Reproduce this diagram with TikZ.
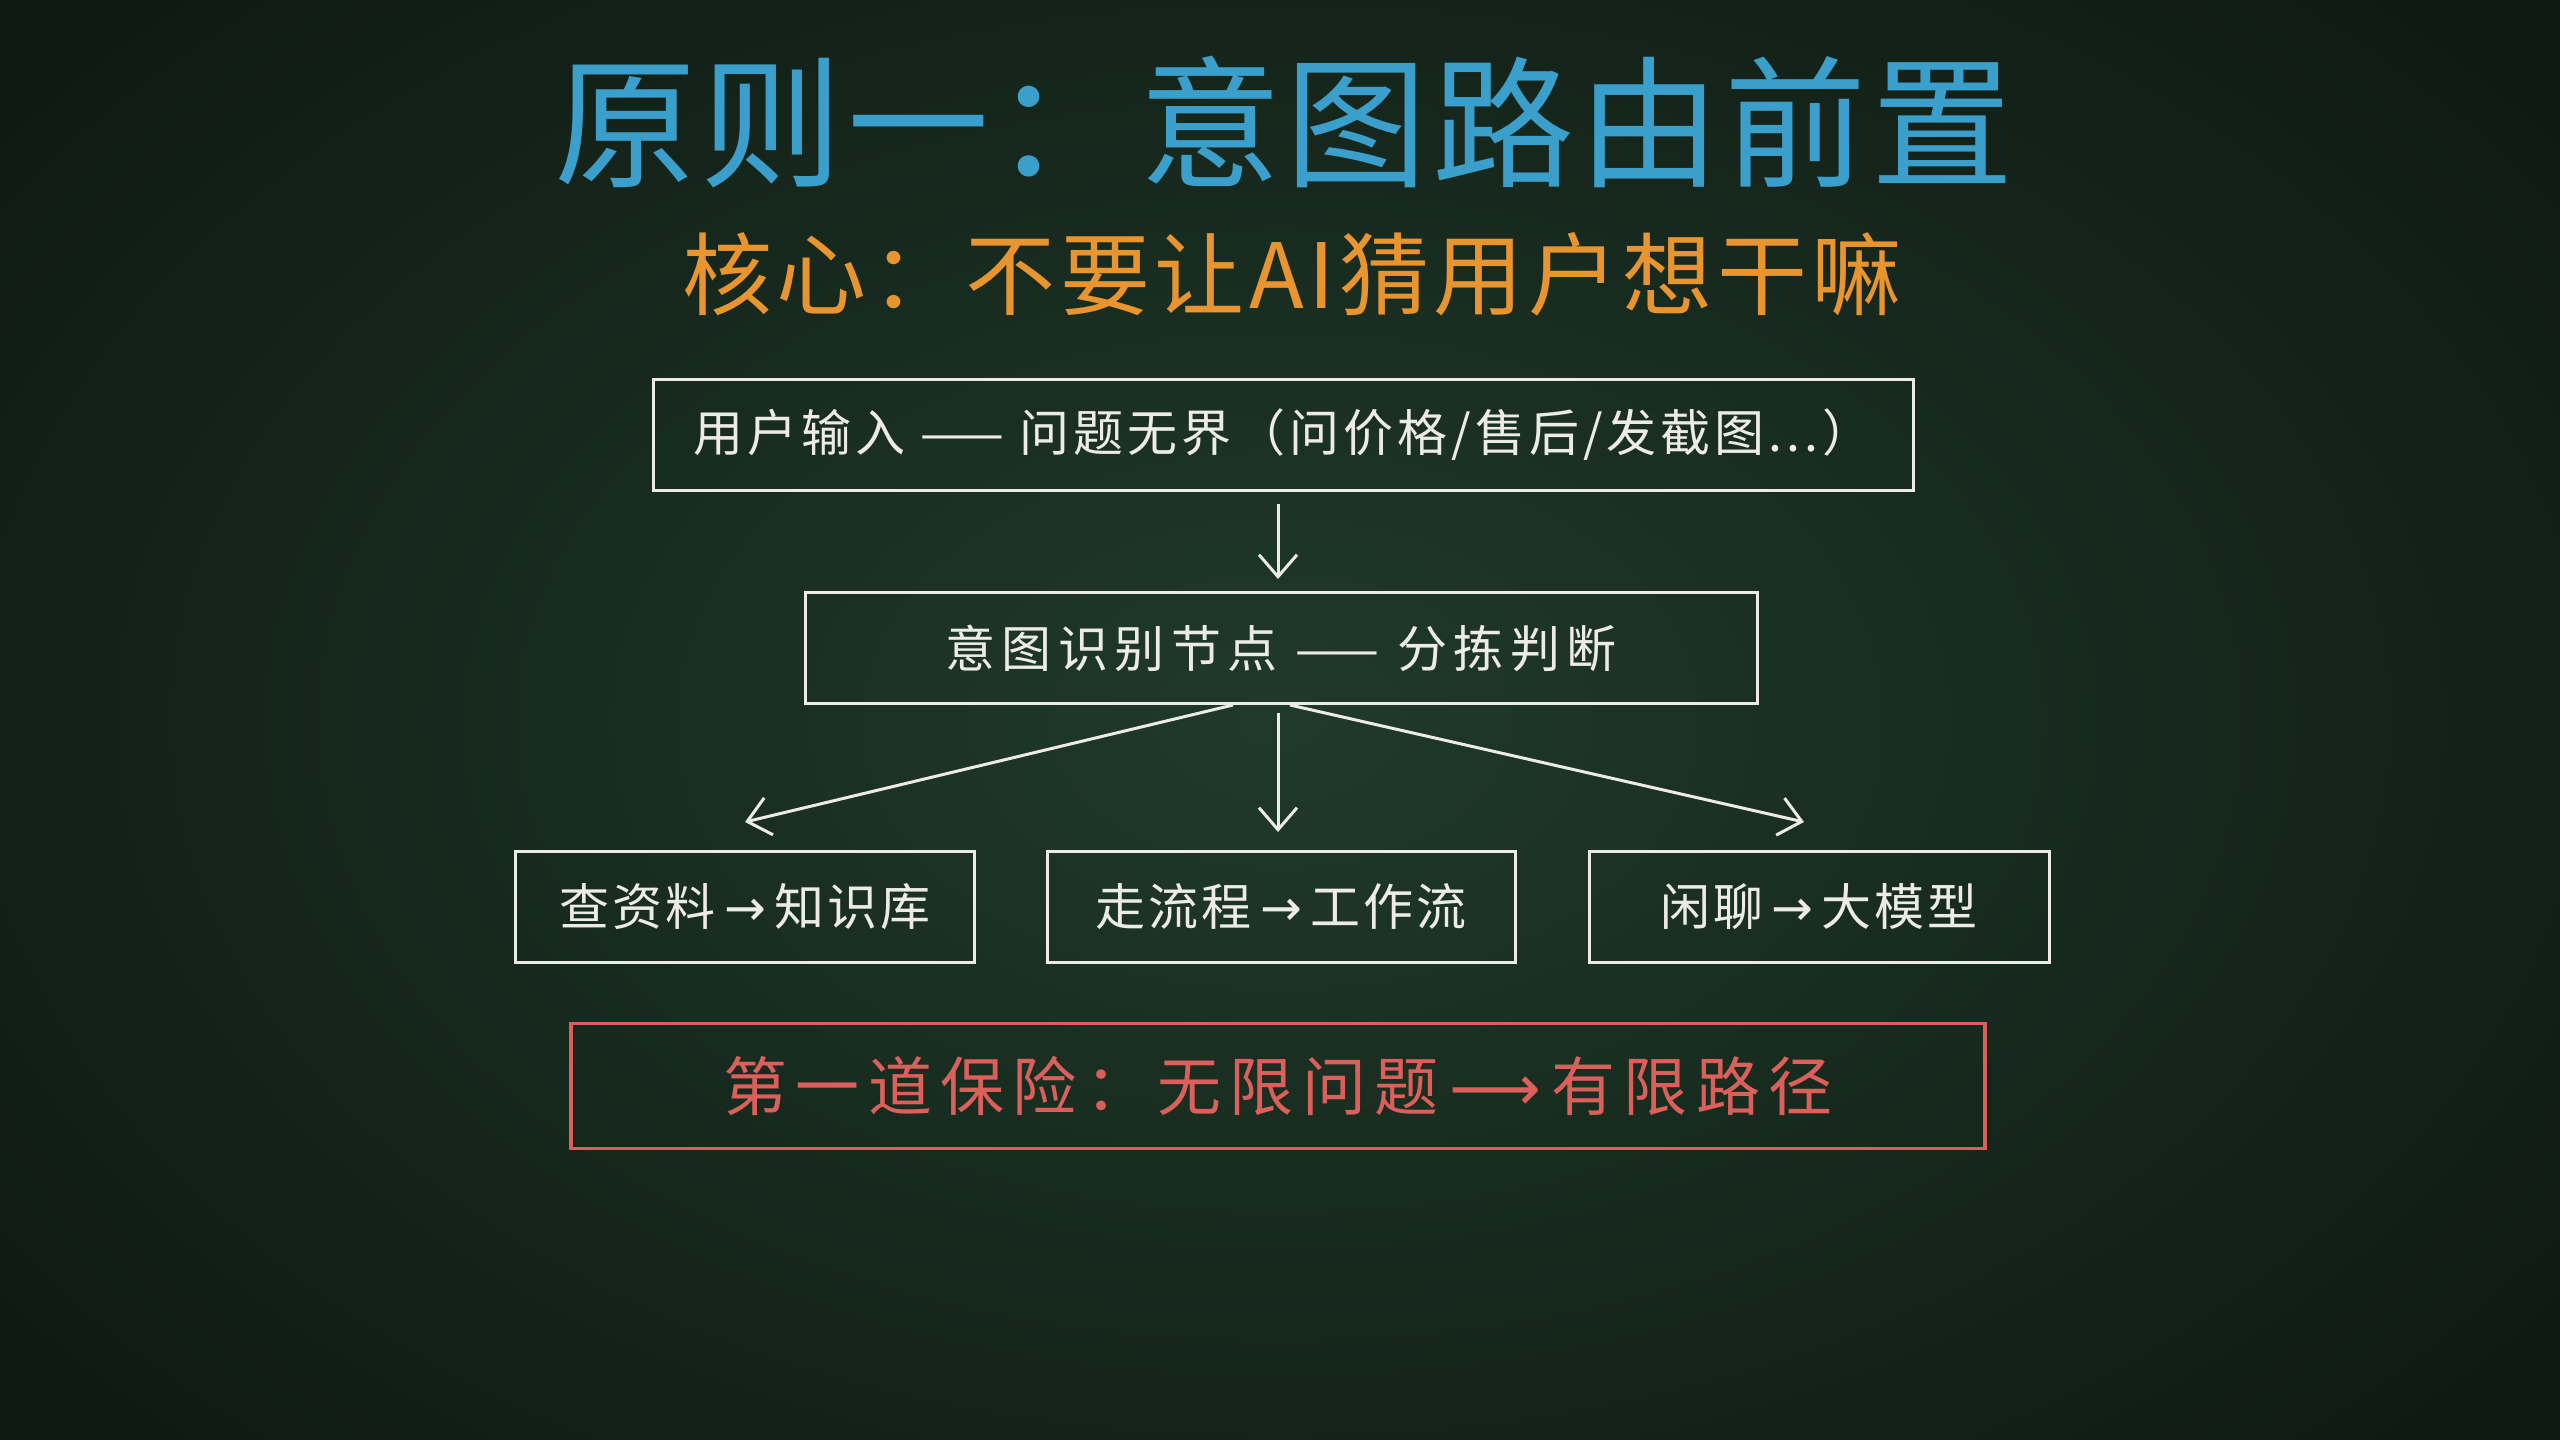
\documentclass[tikz,border=0pt]{standalone}
\usepackage{fontspec}
\newfontfamily\cjk{Noto Sans CJK SC}
\newfontfamily\cjkt[LetterSpace=3]{Noto Sans CJK SC}
\newfontfamily\cjks[LetterSpace=5]{Noto Sans CJK SC}
\newfontfamily\cjkw[LetterSpace=13]{Noto Sans CJK SC}
\newfontfamily\cjkn[LetterSpace=8]{Noto Sans CJK SC}
\newfontfamily\cjkm[LetterSpace=6]{Noto Sans CJK SC}
\newfontfamily\symf{DejaVu Sans}
\usetikzlibrary{arrows.meta,calc}
\definecolor{boardc}{HTML}{203A2A}
\definecolor{boarde}{HTML}{0F1A13}
\definecolor{chalk}{HTML}{ECECE4}
\definecolor{titleblue}{HTML}{3A9FCB}
\definecolor{subor}{HTML}{E8942F}
\definecolor{chalkred}{HTML}{DB5F5A}
\tikzset{
  chalkbox/.style={draw=chalk, line width=3pt, minimum height=111pt, inner sep=0pt, text=chalk, font=\cjkw\fontsize{50}{58}\selectfont},
  smallbox/.style={chalkbox, font=\cjkm\fontsize{50}{58}\selectfont},
  redbox/.style={draw=chalkred, line width=3.5pt, minimum height=125pt, minimum width=1414pt, inner sep=0pt, text=chalkred, font=\cjkw\fontsize{64}{72}\selectfont},
  chalkarrow/.style={draw=chalk, line width=3pt, -{Straight Barb[length=22pt,width=38pt,line width=3pt]}}
}
\begin{document}
\begin{tikzpicture}[x=1pt,y=-1pt]
\useasboundingbox (0,0) rectangle (2560,1440);
\shade[inner color=boardc, outer color=boarde] (-300,-300) rectangle (2860,1740);
% title
\node[text=titleblue, font=\cjkt\fontsize{142}{150}\selectfont] (title) at (1284,122) {原则一：意图路由前置};
\node[text=subor, font=\cjks\fontsize{90}{100}\selectfont] (sub) at (1292,274) {核心：不要让AI猜用户想干嘛};
% boxes
\node[chalkbox, minimum width=1260pt, font=\cjkn\fontsize{50}{58}\selectfont] (b1) at (1283,435) {用户输入 —— 问题无界（问价格/售后/发截图...）};
\node[chalkbox, minimum width=952pt] (b2) at (1281,648) {意图识别节点 —— 分拣判断};
\node[smallbox, minimum width=459pt] (c1) at (745,907) {查资料{\symf\,→\,}知识库};
\node[smallbox, minimum width=468pt] (c2) at (1281,907) {走流程{\symf\,→\,}工作流};
\node[smallbox, minimum width=460pt] (c3) at (1819,907) {闲聊{\symf\,→\,}大模型};
\node[redbox] (rb) at (1278,1086) {第一道保险：无限问题{\symf\,⟶\,}有限路径};
% connectors
\coordinate (a1s) at ($(b1.south)+(-5,12)$);
\coordinate (a1e) at ($(b2.north)+(-3,-12)$);
\draw[chalkarrow] (a1s) -- (a1e);
\coordinate (lfs) at ($(b2.south)+(-48,0)$);
\coordinate (lfe) at ($(c1.north)+(0,-28)$);
\coordinate (mds) at ($(b2.south)+(-3,8)$);
\coordinate (mde) at ($(c2.north)+(-3,-18)$);
\coordinate (rts) at ($(b2.south)+(9,0)$);
\coordinate (rte) at ($(c3.north)+(-15,-28)$);
\draw[chalkarrow] (lfs) -- (lfe);
\draw[chalkarrow] (mds) -- (mde);
\draw[chalkarrow] (rts) -- (rte);
\end{tikzpicture}
\end{document}
